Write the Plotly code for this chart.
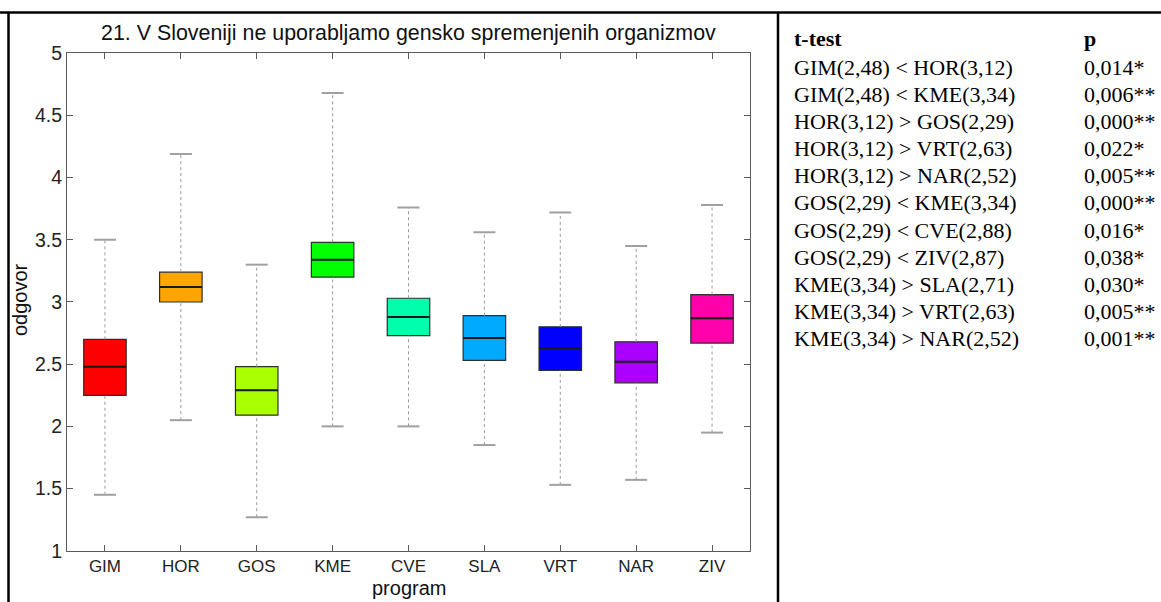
import plotly.graph_objects as go

programs = ["GIM", "HOR", "GOS", "KME", "CVE", "SLA", "VRT", "NAR", "ZIV"]
lower_whisker = [1.45, 2.05, 1.27, 2.00, 2.00, 1.85, 1.53, 1.57, 1.95]
q1_values = [2.25, 3.00, 2.09, 3.20, 2.73, 2.53, 2.45, 2.35, 2.67]
medians = [2.48, 3.12, 2.29, 3.34, 2.88, 2.71, 2.63, 2.52, 2.87]
q3_values = [2.70, 3.24, 2.48, 3.48, 3.03, 2.89, 2.80, 2.68, 3.06]
upper_whisker = [3.50, 4.19, 3.30, 4.68, 3.76, 3.56, 3.72, 3.45, 3.78]
box_colors = ["#FF0000", "#FFA500", "#AAFF00", "#00FF00", "#00FFAA",
              "#00AAFF", "#0000FF", "#AA00FF", "#FF00AA"]

ttest_rows = [
    "GIM(2,48) < HOR(3,12)", "GIM(2,48) < KME(3,34)", "HOR(3,12) > GOS(2,29)",
    "HOR(3,12) > VRT(2,63)", "HOR(3,12) > NAR(2,52)", "GOS(2,29) < KME(3,34)",
    "GOS(2,29) < CVE(2,88)", "GOS(2,29) < ZIV(2,87)", "KME(3,34) > SLA(2,71)",
    "KME(3,34) > VRT(2,63)", "KME(3,34) > NAR(2,52)",
]
p_values = ["0,014*", "0,006**", "0,000**", "0,022*", "0,005**", "0,000**",
            "0,016*", "0,038*", "0,030*", "0,005**", "0,001**"]

title_text = "21. V Sloveniji ne uporabljamo gensko spremenjenih organizmov"
y_ticks = [1, 1.5, 2, 2.5, 3, 3.5, 4, 4.5, 5]

W, H = 1161, 602
BOX_W = 0.56
CAP_W = 0.29

# vertical calibration of the page (pixel from top -> paper fraction)
V_OFF, V_SPAN = 9.4, 585.2


def fy(px):
    return 1 - (px - V_OFF) / V_SPAN


positions = list(range(1, len(programs) + 1))

fig = go.Figure()

wx, wy, cx, cy = [], [], [], []
for p, lo, q1, q3, hi in zip(positions, lower_whisker, q1_values, q3_values, upper_whisker):
    wx += [p, p, None, p, p, None]
    wy += [lo, q1, None, q3, hi, None]
    cx += [p - CAP_W / 2, p + CAP_W / 2, None, p - CAP_W / 2, p + CAP_W / 2, None]
    cy += [lo, lo, None, hi, hi, None]

fig.add_trace(go.Scatter(x=wx, y=wy, mode="lines",
                         line=dict(color="#9a9a9a", width=1, dash="dot"),
                         showlegend=False, hoverinfo="skip"))
fig.add_trace(go.Scatter(x=cx, y=cy, mode="lines",
                         line=dict(color="#a0a0a0", width=2),
                         showlegend=False, hoverinfo="skip"))

for p, name, q1, med, q3, col in zip(positions, programs, q1_values, medians, q3_values, box_colors):
    fig.add_trace(go.Box(
        x=[p], q1=[q1], median=[med], q3=[q3], lowerfence=[q1], upperfence=[q3],
        width=BOX_W, fillcolor=col, line=dict(color="#2e2e2e", width=1.2),
        whiskerwidth=0, name=name, showlegend=False, boxpoints=False,
    ))

mx, my = [], []
for p, med in zip(positions, medians):
    mx += [p - BOX_W / 2, p + BOX_W / 2, None]
    my += [med, med, None]
fig.add_trace(go.Scatter(x=mx, y=my, mode="lines",
                         line=dict(color="#1a1a1a", width=2),
                         showlegend=False, hoverinfo="skip"))

x0, x1 = 67 / W, 750 / W
y0, y1 = fy(554), fy(52)

axis_common = dict(showline=True, linecolor="#5a5a5a", linewidth=1, mirror="ticks",
                   ticks="inside", ticklen=6, tickcolor="#5a5a5a", showgrid=False,
                   zeroline=False)

sans = "Liberation Sans, Arial"
fig.update_layout(
    width=W, height=H,
    margin=dict(l=0, r=0, t=0, b=0),
    paper_bgcolor="white", plot_bgcolor="white",
    boxmode="overlay",
    showlegend=False,
    xaxis=dict(domain=[x0, x1], range=[0.5, 9.5], tickvals=positions, ticktext=programs,
               tickfont=dict(family=sans, size=17, color="#222"), **axis_common),
    yaxis=dict(domain=[y0, y1], range=[1, 5], tickvals=y_ticks,
               ticktext=[f"{v:g}" for v in y_ticks],
               tickfont=dict(family=sans, size=19.5, color="#222"), **axis_common),
)

ann = []
ann.append(dict(x=(x0 + x1) / 2, y=fy(32), xref="paper", yref="paper", text=title_text,
                showarrow=False, xanchor="center", yanchor="middle",
                font=dict(family=sans, size=21.4, color="#111")))
ann.append(dict(x=(x0 + x1) / 2, y=fy(592), xref="paper", yref="paper", text="program",
                showarrow=False, xanchor="center", yanchor="middle",
                font=dict(family=sans, size=20, color="#111")))
ann.append(dict(x=20 / W, y=fy(301), xref="paper", yref="paper", text="odgovor",
                showarrow=False, xanchor="center", yanchor="middle", textangle=-90,
                font=dict(family=sans, size=20, color="#111")))

serif = "Liberation Serif, Times New Roman, serif"
TS = 22
ann.append(dict(x=792 / W, y=fy(37), xref="paper", yref="paper", text="<b>t-test</b>",
                showarrow=False, xanchor="left", yanchor="middle",
                font=dict(family=serif, size=TS, color="#000")))
ann.append(dict(x=1082 / W, y=fy(37), xref="paper", yref="paper", text="<b>p</b>",
                showarrow=False, xanchor="left", yanchor="middle",
                font=dict(family=serif, size=TS, color="#000")))
row_step = 27.4
for i, (r, pv) in enumerate(zip(ttest_rows, p_values)):
    yy = fy(66 + i * row_step)
    ann.append(dict(x=792 / W, y=yy, xref="paper", yref="paper", text=r,
                    showarrow=False, xanchor="left", yanchor="middle",
                    font=dict(family=serif, size=TS, color="#000")))
    ann.append(dict(x=1082 / W, y=yy, xref="paper", yref="paper", text=pv,
                    showarrow=False, xanchor="left", yanchor="middle",
                    font=dict(family=serif, size=TS, color="#000")))
fig.update_layout(annotations=ann)

frame = dict(color="black", width=2.5)
shapes = [
    dict(type="line", xref="paper", yref="paper", x0=0, x1=1, y0=fy(11), y1=fy(11), line=frame),
    dict(type="line", xref="paper", yref="paper", x0=8.5 / W, x1=8.5 / W, y0=-0.05, y1=fy(11), line=frame),
    dict(type="line", xref="paper", yref="paper", x0=778 / W, x1=778 / W, y0=-0.05, y1=fy(11), line=frame),
]
fig.update_layout(shapes=shapes)

fig.write_html("out.html")
